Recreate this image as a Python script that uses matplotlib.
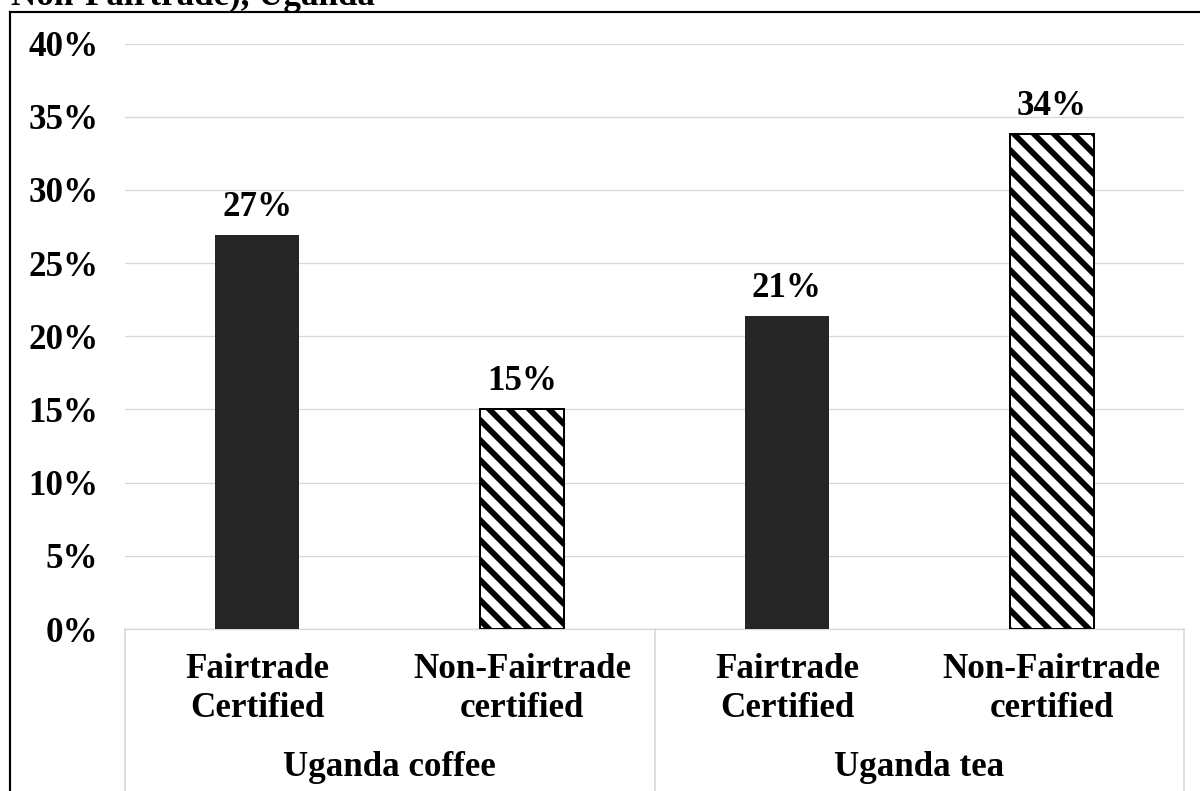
import matplotlib
matplotlib.use("Agg")
import matplotlib.pyplot as plt
from matplotlib.lines import Line2D
from matplotlib.transforms import blended_transform_factory

# data
CATEGORIES = ["Fairtrade\nCertified", "Non-Fairtrade\ncertified",
              "Fairtrade\nCertified", "Non-Fairtrade\ncertified"]
GROUPS = ["Uganda coffee", "Uganda tea"]
GROUP_SPAN = [(0, 1), (2, 3)]
VALUES = [26.9, 15.0, 21.4, 33.8]
HATCHED = [False, True, False, True]
Y_TICKS = [0, 5, 10, 15, 20, 25, 30, 35, 40]
TITLE = "Non-Fairtrade), Uganda"

W, H, DPI = 1200, 791, 120
DARK = "#262626"
GRID = "#d9d9d9"
FS = 21

plt.rcParams["font.family"] = ["Liberation Serif", "DejaVu Serif"]
plt.rcParams["font.weight"] = "bold"
plt.rcParams["hatch.linewidth"] = 3.5


def px_x(x):
    return x / W


def px_y(y):
    return 1 - y / H


fig = plt.figure(figsize=(W / DPI, H / DPI), dpi=DPI)
ax = fig.add_axes([px_x(125), px_y(629), px_x(1184) - px_x(125), px_y(43.5) - px_y(629)])

xs = list(range(len(VALUES)))
for x, v, hatched in zip(xs, VALUES, HATCHED):
    if hatched:
        ax.bar(x, v, width=0.317, color="white", edgecolor="black",
               linewidth=1.2, hatch="\\\\", zorder=3)
    else:
        ax.bar(x, v, width=0.317, color=DARK, edgecolor=DARK, linewidth=0, zorder=3)
    ax.annotate(f"{v:.0f}%", (x, v), xytext=(0, 11.5), textcoords="offset points",
                ha="center", va="baseline", fontsize=FS, fontweight="bold")

ax.set_xlim(-0.5, len(VALUES) - 0.5)
ax.set_ylim(0, 40)
ax.set_yticks(Y_TICKS)
ax.set_yticklabels([f"{t}%" for t in Y_TICKS], fontsize=FS, fontweight="bold")
ax.set_xticks([])
ax.tick_params(axis="y", length=0, pad=16)
ax.grid(axis="y", color=GRID, linewidth=0.8, zorder=0)
for side in ["top", "right", "left"]:
    ax.spines[side].set_visible(False)
ax.spines["bottom"].set_color(GRID)
ax.spines["bottom"].set_linewidth(0.8)

# category axis below the plot
tr = blended_transform_factory(ax.transData, fig.transFigure)
for x, label in zip(xs, CATEGORIES):
    ax.text(x, px_y(689), label, transform=tr, ha="center", va="center",
            fontsize=FS, fontweight="bold", linespacing=1.22)
for (a, b), g in zip(GROUP_SPAN, GROUPS):
    ax.text((a + b) / 2, px_y(767), g, transform=tr, ha="center", va="center",
            fontsize=FS, fontweight="bold")
for xb in [-0.5, 1.5, 3.5]:
    fig.add_artist(Line2D([xb, xb], [px_y(629), 0], transform=tr,
                          color=GRID, linewidth=1.0, clip_on=False))

# outer frame (cut off at right/bottom)
fig.add_artist(Line2D([px_x(10), px_x(10)], [px_y(12), 0], color="black", linewidth=1.3))
fig.add_artist(Line2D([px_x(10), 1], [px_y(12), px_y(12)], color="black", linewidth=1.3))

fig.text(px_x(11), px_y(5), TITLE, ha="left", va="baseline",
         fontsize=FS, fontweight="bold")

fig.savefig("out.png", dpi=DPI)
